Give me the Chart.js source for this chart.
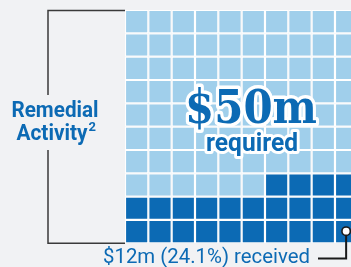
<!DOCTYPE html>
<html>
<head>
<meta charset="utf-8">
<script src="https://cdn.jsdelivr.net/npm/chart.js@4/dist/chart.umd.min.js"></script>
<style>
  html, body { margin: 0; padding: 0; background: #f1f2f4; overflow: hidden; }
  #wrap { position: absolute; left: 0; top: 0; width: 360px; height: 267px; }
</style>
</head>
<body>
<div id="wrap"><canvas id="waffle" width="360" height="267"></canvas></div>
<script>
// waffle data
var columns = ['1', '2', '3', '4', '5', '6', '7', '8', '9', '10'];
var rows = ['1', '2', '3', '4', '5', '6', '7', '8', '9', '10'];
var requiredAmount = 50;      // $m
var receivedAmount = 12;      // $m
var receivedPct = 24.1;       // %
var labels = ['Remedial', 'Activity'];

var LIGHT = '#a0cfeb';
var DARK = '#0c6ab4';
var TEXT_BLUE = '#0c6ab4';

// cells filled from the bottom row, right to left
var filledCells = Math.round(receivedPct);

function cellColor(rowIdx, colIdx) {
    var perRow = columns.length;
    var order = rowIdx * perRow + (perRow - 1 - colIdx);
    return order < filledCells ? DARK : LIGHT;
}

var datasets = rows.map(function (r, ri) {
    return {
        label: 'row ' + r,
        data: columns.map(function () { return 1; }),
        backgroundColor: columns.map(function (c, ci) { return cellColor(ri, ci); }),
        borderColor: '#ffffff',
        borderWidth: 1.1,
        borderSkipped: false,
        inflateAmount: 0,
        categoryPercentage: 1,
        barPercentage: 1
    };
});

function fitText(ctx, text, x, y, width, align) {
    var w = ctx.measureText(text).width;
    var s = width / w;
    ctx.save();
    ctx.translate(x, y);
    ctx.scale(s, 1);
    ctx.textAlign = align || 'center';
    ctx.fillText(text, 0, 0);
    ctx.restore();
}

function outlinedText(ctx, text, x, y, width, lw) {
    var w = ctx.measureText(text).width;
    var s = width / w;
    ctx.save();
    ctx.translate(x, y);
    ctx.scale(s, 1);
    ctx.textAlign = 'center';
    ctx.lineJoin = 'round';
    ctx.lineWidth = lw;
    ctx.strokeStyle = '#ffffff';
    ctx.strokeText(text, 0, 0);
    ctx.fillStyle = TEXT_BLUE;
    ctx.fillText(text, 0, 0);
    ctx.restore();
}

var annotations = {
    id: 'annotations',
    afterDraw: function (chart) {
        var ctx = chart.ctx;
        var area = chart.chartArea;
        ctx.save();
        ctx.textBaseline = 'alphabetic';

        // bracket on the left
        ctx.strokeStyle = '#3a3a3a';
        ctx.lineWidth = 1.5;
        ctx.beginPath();
        ctx.moveTo(area.left, area.top + 0.5);
        ctx.lineTo(48, area.top + 0.5);
        ctx.lineTo(48, 95);
        ctx.moveTo(48, 150);
        ctx.lineTo(48, area.bottom);
        ctx.lineTo(area.left, area.bottom);
        ctx.stroke();

        // category label
        ctx.fillStyle = TEXT_BLUE;
        ctx.font = 'bold 22px Roboto';
        fitText(ctx, labels[0], 55, 117, 87);
        fitText(ctx, labels[1], 52, 139.5, 71);
        ctx.font = 'bold 13px Roboto';
        ctx.textAlign = 'left';
        ctx.fillText('2', 88.5, 131);

        // big amount
        ctx.font = 'bold 47px "DejaVu Serif"';
        outlinedText(ctx, '$' + requiredAmount + 'm', 251, 123, 132, 7);
        ctx.font = 'bold 26px Roboto';
        outlinedText(ctx, 'required', 252, 151, 92, 6);

        // received label + connector
        ctx.fillStyle = TEXT_BLUE;
        ctx.font = '20px Roboto';
        fitText(ctx, '$' + receivedAmount + 'm (' + receivedPct + '%) received', 206.5, 262.5, 207);

        var cell = chart.getDatasetMeta(0).data[columns.length - 1];
        var cx = cell.x - 0.5;
        var cy = (cell.y + cell.base) / 2 - 0.5;
        ctx.strokeStyle = '#1a1a1a';
        ctx.lineWidth = 2;
        ctx.beginPath();
        ctx.moveTo(318, 258.5);
        ctx.lineTo(cx, 258.5);
        ctx.lineTo(cx, cy);
        ctx.stroke();
        ctx.beginPath();
        ctx.arc(cx, cy, 4.2, 0, Math.PI * 2);
        ctx.fillStyle = '#ffffff';
        ctx.fill();
        ctx.lineWidth = 1.6;
        ctx.stroke();
        ctx.restore();
    }
};

var ctx = document.getElementById('waffle').getContext('2d');
new Chart(ctx, {
    type: 'bar',
    data: { labels: columns, datasets: datasets },
    options: {
        responsive: false,
        animation: false,
        layout: { padding: { left: 125, right: 1.7, top: 10, bottom: 23.7 } },
        plugins: { legend: { display: false }, tooltip: { enabled: false } },
        scales: {
            x: { stacked: true, display: false },
            y: { stacked: true, display: false, min: 0, max: rows.length }
        }
    },
    plugins: [annotations]
});
</script>
</body>
</html>
